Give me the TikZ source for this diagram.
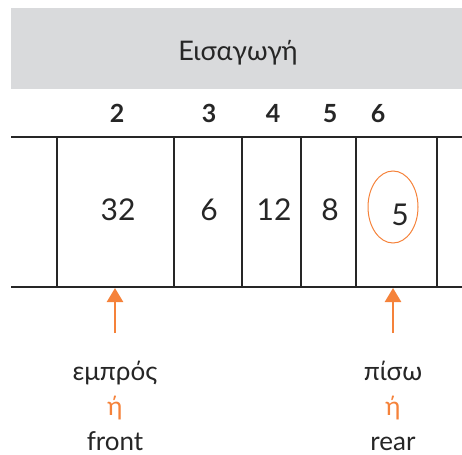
\documentclass[tikz,border=0pt]{standalone}
\usepackage{fontspec}
\setmainfont{Lato}
\usetikzlibrary{arrows.meta}
\definecolor{qorange}{HTML}{F5823A}
\definecolor{qgray}{HTML}{D9DADC}
\definecolor{qink}{HTML}{262626}
\begin{document}
\begin{tikzpicture}[x=1pt, y=-1pt,
    wall/.style={line width=2.2pt, qink},
    val/.style={anchor=base, inner sep=0pt, font=\fontsize{30}{32}\selectfont, text=qink},
    idx/.style={anchor=base, inner sep=0pt, font=\fontsize{25}{27}\selectfont\bfseries, text=qink},
    lab/.style={anchor=base, inner sep=0pt, font=\fontsize{26}{30}\selectfont, text=qink},
    ptr/.style={-{Triangle[width=16pt, length=14pt]}, line width=2.5pt, qorange}]
    \useasboundingbox (0,0) rectangle (462,454);

    %Header
    \fill[qgray] (11,8) rectangle (462,89);
    \node[lab, font=\fontsize{27}{30}\selectfont] at (238,61) (title) {Εισαγωγή};

    %Nodes
    \node[idx] at (117,123) (i2) {2};
    \node[idx] at (209,123) (i3) {3};
    \node[idx] at (273,123) (i4) {4};
    \node[idx] at (330,123) (i5) {5};
    \node[idx] at (378,123) (i6) {6};

    \node[val] at (118,220) (v32) {32};
    \node[val] at (209,220) (v6) {6};
    \node[val] at (274,220) (v12) {12};
    \node[val] at (330,220) (v8) {8};
    \node[val] at (400,225) (v5) {5};
    \draw[qorange, line width=1pt] (393,207) ellipse (25 and 36);

    %Lines
    \draw[wall] (11,137) -- (462,137);
    \draw[wall] (11,287) -- (462,287);
    \foreach \x in {57,174,242,301,356,437}
        \draw[wall] (\x,137) -- (\x,287);

    %Pointers
    \coordinate (fhead) at (115,288);
    \coordinate (ftail) at (115,333);
    \coordinate (rhead) at (393,288);
    \coordinate (rtail) at (393,333);
    \draw[ptr] (ftail) -- (fhead);
    \draw[ptr] (rtail) -- (rhead);

    \node[lab] at (115,380) (fgr) {εμπρός};
    \node[lab, text=qorange] at (115,415) (for) {ή};
    \node[lab] at (115,450) (fen) {front};
    \node[lab] at (393,380) (rgr) {πίσω};
    \node[lab, text=qorange] at (393,415) (ror) {ή};
    \node[lab] at (393,450) (ren) {rear};
\end{tikzpicture}
\end{document}
